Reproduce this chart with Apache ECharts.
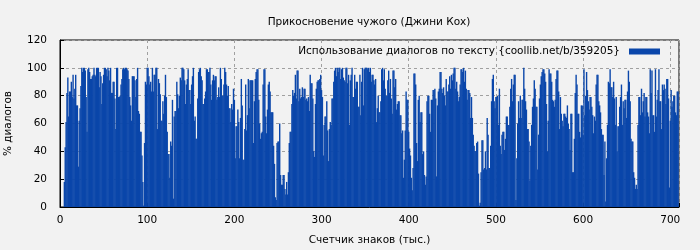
<!DOCTYPE html>
<html>
<head>
<meta charset="utf-8">
<script src="https://cdn.jsdelivr.net/npm/echarts@6/dist/echarts.min.js"></script>
<style>
html,body{margin:0;padding:0;background:#f2f2f2;}
#chart{width:700px;height:250px;}
</style>
</head>
<body>
<div id="chart"></div>
<script>
// заголовки
var titleText = 'Прикосновение чужого (Джини Кох)';
var seriesName = 'Использование диалогов по тексту {coollib.net/b/359205}';
var xName = 'Счетчик знаков (тыс.)';
var yName = '% диалогов';

// первый столбец (тыс. знаков)
var firstK = 5;
// % диалогов на каждую тысячу знаков
var usage = [
  18,43,61,82,93,65,83,83, 90,79,95,78,85,95,73,73, 29,62,71,87,100,97,100,100, 98,79,54,99,100,97,92,92,
  94,95,100,95,94,100,100,100, 86,97,94,74,89,95,100,100, 99,94,100,98,91,100,82,82, 90,90,78,56,100,100,79,79,
  80,88,92,99,100,99,100,100, 99,98,92,79,73,62,94,94, 94,
  91,79,92,100,69,67,54,54, 37,18,1,46,90,88,100,100, 94,88,90,83,100,83,95,95, 100,100,56,92,89,81,62,62,
  76,67,80,95,79,54,38,38, 21,47,44,77,6,65,69,69, 90,81,71,80,93,91,100,100, 99,91,74,88,92,99,84,84,
  74,88,94,100,62,65,49,49, 78,97,99,100,94,91,74,74, 78,83,99,99,97,97,
  100,88,77,91,95,91,94,94, 77,79,86,79,100,92,80,80, 88,100,97,88,80,87,71,71, 61,74,70,85,77,35,58,58,
  70,61,35,64,92,73,34,34, 56,88,55,66,92,71,91,91, 91,91,46,76,92,97,99,99, 77,60,49,53,54,88,99,99,
  65,53,70,88,90,83,68,68, 68,44,31,7,5,46,47,47, 60,23,16,16,23,23,
  13,9,18,9,25,46,54,54, 74,84,80,82,95,78,98,98, 76,85,78,79,86,79,85,85, 77,78,76,79,69,95,89,89,
  78,40,36,74,85,90,91,91, 92,95,84,79,37,59,65,65, 76,55,33,56,61,59,78,78, 90,98,100,94,100,97,100,100,
  92,99,100,93,91,90,100,100, 89,95,59,91,95,100,79,79, 95,85,90,90,72,72,
  95,66,90,100,73,99,100,100, 100,99,100,97,100,90,95,95, 91,88,92,61,71,80,68,68, 76,99,100,91,99,85,80,80,
  91,98,82,92,78,67,98,98, 86,92,70,74,76,76,66,66, 53,55,21,34,55,83,77,77, 54,42,37,21,12,28,96,96,
  88,46,33,77,80,61,68,68, 38,40,23,16,22,76,80,80, 67,54,77,77,84,84,
  85,78,22,73,83,85,97,97, 85,82,86,80,73,92,83,83, 88,94,85,95,91,96,100,100, 85,90,83,76,79,88,99,99,
  97,100,90,98,85,77,84,84, 82,64,79,64,52,44,40,40, 46,47,24,1,3,25,48,48, 27,28,40,27,64,52,28,28,
  44,76,92,95,76,71,79,79, 80,59,85,44,38,52,54,54, 41,49,65,65,59,59,
  72,85,92,76,88,95,95,5, 35,60,76,64,80,64,77,77, 100,85,76,70,56,56,47,19, 44,59,72,78,91,85,72,72,
  27,52,78,88,94,97,99,99, 96,90,74,40,62,99,96,96, 90,77,76,72,77,92,98,98, 83,56,79,67,62,58,67,67,
  65,64,73,60,56,41,67,67, 25,25,49,82,95,88,67,67, 54,50,73,73,52,99,
  66,80,97,84,76,70,79,79, 72,66,53,65,62,88,95,95, 76,73,68,56,52,52,23,47, 4,35,59,90,89,99,86,86,
  79,90,78,59,79,40,58,58, 72,79,88,59,76,71,77,77, 64,83,98,90,76,49,47,47, 25,21,13,16,13,59,79,79,
  66,85,68,76,82,65,79,79, 68,65,53,99,82,98,66,66, 54,99,65,77,84,99,76,76, 56,88,84,88,85,74,92,92,
  78,14,62,84,72,76,80,80, 68,66,83,83
];

function usageBarFn(chartsId){
	var chart = echarts.init(document.getElementById(chartsId));
	var font = 'DejaVu Sans';
	var fs = 10.5;
	var points = [];
	for (var i = 0; i < usage.length; i++) {
		points.push([firstK + i, usage[i]]);
	}
	var gridLine = { show: true, lineStyle: { color: '#a0a0a0', type: [3, 3], width: 1 } };
	var option = {
		backgroundColor: '#f2f2f2',
		animation: false,
		textStyle: { fontFamily: font },
		title: {
			text: titleText,
			left: 364,
			textAlign: 'center',
			top: 12,
			textStyle: { fontFamily: font, fontSize: fs, fontWeight: 'normal', color: '#000' }
		},
		legend: {
			data: [seriesName],
			right: 35,
			top: 41,
			align: 'right',
			icon: 'rect',
			itemWidth: 31,
			itemHeight: 6,
			textStyle: { fontFamily: font, fontSize: fs, color: '#000', padding: [0, 4, 0, 0] }
		},
		grid: {
			left: 60, right: 21, top: 40, bottom: 43,
			outerBoundsMode: 'none',
			containLabel: false,
			show: true, borderColor: '#000', borderWidth: 1, backgroundColor: 'transparent'
		},
		xAxis: {
			type: 'value',
			min: 0, max: 710, interval: 100,
			name: xName,
			nameLocation: 'middle',
			nameGap: 28,
			nameTextStyle: { fontFamily: font, fontSize: fs, color: '#000' },
			axisLine: { show: true, lineStyle: { color: '#000' } },
			axisTick: { show: true, inside: true, length: 4, lineStyle: { color: '#000' } },
			axisLabel: {
				fontFamily: font, fontSize: fs, color: '#000', margin: 8,
				formatter: function (v) { return v % 100 === 0 ? String(v) : ''; }
			},
			splitLine: gridLine
		},
		yAxis: {
			type: 'value',
			min: 0, max: 120, interval: 20,
			name: yName,
			nameLocation: 'middle',
			nameGap: 46,
			nameTextStyle: { fontFamily: font, fontSize: fs, color: '#000' },
			axisLine: { show: true, lineStyle: { color: '#000' } },
			axisTick: { show: true, inside: true, length: 4, lineStyle: { color: '#000' } },
			axisLabel: { fontFamily: font, fontSize: fs, color: '#000', margin: 13 },
			splitLine: gridLine
		},
		series: [{
			name: seriesName,
			type: 'bar',
			data: points,
			barWidth: 1.4,
			itemStyle: { color: '#0a46aa' }
		}]
	};
	chart.setOption(option);
}
usageBarFn('chart');
</script>
</body>
</html>
